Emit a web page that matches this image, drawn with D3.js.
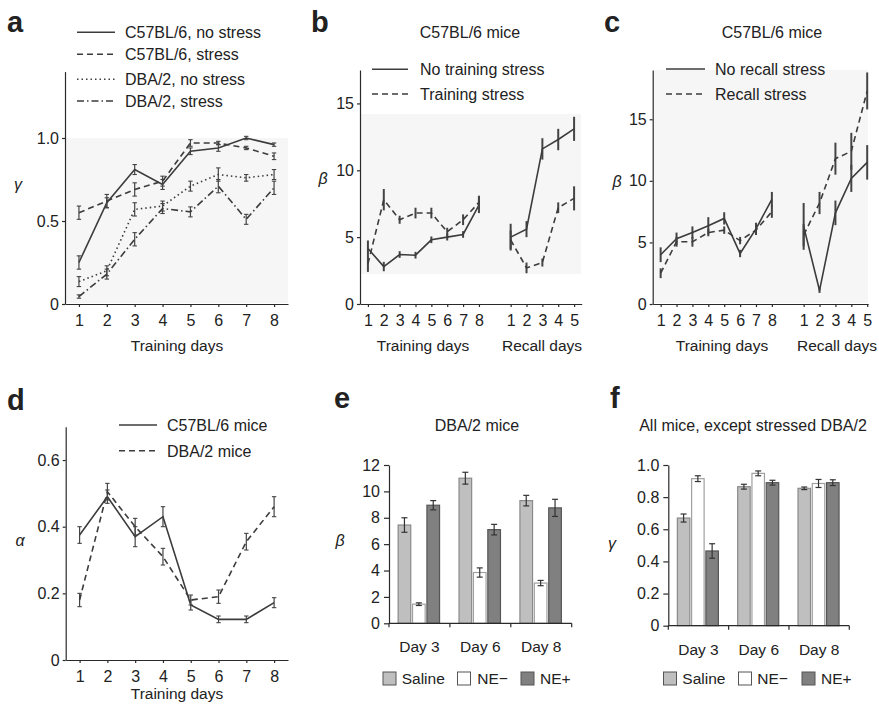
<!DOCTYPE html>
<html>
<head>
<meta charset="utf-8">
<script src="https://cdn.jsdelivr.net/npm/d3@7"></script>
<style>
  body { margin: 0; background: #fff; }
  text { font-family: "Liberation Sans", Arial, sans-serif; fill: #222; }
</style>
</head>
<body>
<svg id="fig" width="879" height="705"></svg>
<script>
/**
 * Six-panel figure: learning parameters of C57BL/6 and DBA/2 mice.
 */

// Data.
var trainingDays = [1, 2, 3, 4, 5, 6, 7, 8];
var recallDays = [1, 2, 3, 4, 5];

// a: gamma over training days.
var gammaC57NoStress = [0.25, 0.61, 0.81, 0.72, 0.92, 0.94, 1.0, 0.96];
var gammaC57NoStressErr = [0.04, 0.03, 0.03, 0.03, 0.02, 0.02, 0.01, 0.01];
var gammaC57Stress = [0.55, 0.62, 0.69, 0.74, 0.97, 0.97, 0.94, 0.89];
var gammaC57StressErr = [0.04, 0.04, 0.04, 0.03, 0.02, 0.01, 0.01, 0.02];
var gammaDBANoStress = [0.135, 0.2, 0.57, 0.59, 0.71, 0.78, 0.76, 0.78];
var gammaDBANoStressErr = [0.03, 0.03, 0.04, 0.03, 0.03, 0.04, 0.02, 0.03];
var gammaDBAStress = [0.045, 0.18, 0.39, 0.575, 0.555, 0.71, 0.51, 0.70];
var gammaDBAStressErr = [0.01, 0.03, 0.04, 0.03, 0.03, 0.04, 0.03, 0.04];

// b: beta, training stress vs none (C57BL/6).
var betaBTrainNoStress = [4.15, 2.8, 3.7, 3.65, 4.8, 5.0, 5.2, 7.4];
var betaBTrainNoStressErr = [0.6, 0.35, 0.25, 0.25, 0.25, 0.25, 0.25, 0.6];
var betaBTrainStress = [3.0, 7.8, 6.3, 6.8, 6.8, 5.4, 6.3, 7.6];
var betaBTrainStressErr = [0.6, 0.8, 0.3, 0.4, 0.4, 0.3, 0.4, 0.5];
var betaBRecallNoStress = [5.0, 5.6, 11.6, 12.3, 13.1];
var betaBRecallNoStressErr = [1.0, 0.6, 0.8, 0.8, 0.9];
var betaBRecallStress = [4.8, 2.7, 3.1, 7.2, 7.9];
var betaBRecallStressErr = [0.7, 0.4, 0.3, 0.4, 0.9];

// c: beta, recall stress vs none (C57BL/6).
var betaCTrainNoStress = [4.0, 5.3, 5.8, 6.35, 6.95, 4.1, 6.1, 8.5];
var betaCTrainNoStressErr = [0.6, 0.5, 0.5, 0.7, 0.5, 0.3, 0.5, 0.6];
var betaCTrainStress = [2.5, 5.05, 5.05, 5.8, 6.0, 5.15, 6.0, 7.5];
var betaCTrainStressErr = [0.4, 0.4, 0.4, 0.3, 0.3, 0.3, 0.4, 0.5];
var betaCRecallNoStress = [6.3, 1.1, 7.4, 10.2, 11.5];
var betaCRecallNoStressErr = [1.9, 0.2, 1.0, 1.1, 1.4];
var betaCRecallStress = [5.6, 8.2, 11.8, 12.4, 17.3];
var betaCRecallStressErr = [0.9, 0.9, 1.3, 1.5, 1.5];

// d: alpha over training days.
var alphaC57 = [0.375, 0.49, 0.37, 0.43, 0.165, 0.122, 0.122, 0.172];
var alphaC57Err = [0.025, 0.02, 0.03, 0.03, 0.015, 0.01, 0.01, 0.015];
var alphaDBA = [0.18, 0.505, 0.40, 0.31, 0.18, 0.19, 0.355, 0.46];
var alphaDBAErr = [0.02, 0.025, 0.025, 0.025, 0.015, 0.02, 0.025, 0.03];

// e, f: bar charts.
var barDays = ['Day 3', 'Day 6', 'Day 8'];
var treatments = ['Saline', 'NE\u2212', 'NE+'];
var betaSaline = [7.45, 11.0, 9.3];
var betaSalineErr = [0.55, 0.45, 0.4];
var betaNEminus = [1.45, 3.85, 3.05];
var betaNEminusErr = [0.1, 0.35, 0.2];
var betaNEplus = [8.95, 7.1, 8.75];
var betaNEplusErr = [0.35, 0.4, 0.65];
var gammaSaline = [0.67, 0.865, 0.855];
var gammaSalineErr = [0.025, 0.015, 0.008];
var gammaNEminus = [0.915, 0.948, 0.885];
var gammaNEminusErr = [0.018, 0.015, 0.025];
var gammaNEplus = [0.465, 0.89, 0.89];
var gammaNEplusErr = [0.045, 0.015, 0.018];

// Styles.
var INK = '#2a2a2a';
var LINE_COLOR = '#3c3c3c';
var ERR_COLOR = '#444';
var SHADE = '#f6f6f6';
var DASHES = {solid: null, dashed: '6,4', dotted: '1.5,3', dashdot: '7,3,1.5,3'};
var BAR_FILLS = ['#bfbfbf', '#ffffff', '#808080'];
var BAR_STROKES = ['#8a8a8a', '#a0a0a0', '#555'];
var TICK_SIZE = 16;
var TEXT_SIZE = 16;

var svg = d3.select('#fig');

var fmtDec = function(p) {
  return function(d) { return d === 0 ? '0' : d3.format('.' + p + 'f')(d); };
};

/**
 * styleAxis
 * Shared look for all axes.
 */
var styleAxis = function(g, size) {
  g.attr('font-family', '"Liberation Sans", Arial, sans-serif').attr('font-size', size);
  g.selectAll('path, line').attr('stroke', INK).attr('stroke-width', 1.2);
  g.selectAll('text').attr('fill', '#222');
};

var panelLetter = function(letter, x, y) {
  svg.append('text').text(letter)
    .attr('x', x).attr('y', y)
    .attr('font-size', 29).attr('font-weight', 'bold');
};

var greekLabel = function(ch, x, y) {
  svg.append('text').text(ch)
    .attr('x', x).attr('y', y)
    .attr('text-anchor', 'middle')
    .attr('font-family', '"Liberation Serif", "DejaVu Serif", serif')
    .attr('font-style', 'italic')
    .attr('font-size', 16);
};

var label = function(str, x, y, size, anchor) {
  svg.append('text').text(str)
    .attr('x', x).attr('y', y)
    .attr('font-size', size)
    .attr('text-anchor', anchor || 'middle');
};

/**
 * lineAxes
 * Draws x/y axes for a line panel.
 */
var lineAxes = function(x, y, xTicks, xFormat, yTicks, yFormat) {
  var x0 = x.range()[0], yBase = y.range()[0];
  var gx = svg.append('g')
    .attr('transform', 'translate(0,' + yBase + ')')
    .call(d3.axisBottom(x).tickValues(xTicks).tickFormat(xFormat)
      .tickSizeInner(3).tickSizeOuter(0).tickPadding(8));
  styleAxis(gx, TICK_SIZE);
  var gy = svg.append('g')
    .attr('transform', 'translate(' + x0 + ',0)')
    .call(d3.axisLeft(y).tickValues(yTicks).tickFormat(yFormat)
      .tickSizeInner(3).tickSizeOuter(0).tickPadding(3));
  styleAxis(gy, TICK_SIZE);
};

/**
 * series
 * Draws one line (with error bars) from x values, means and errors.
 */
var series = function(x, y, xs, vals, errs, dash, cap, errWidth) {
  var pts = xs.map(function(d, i) { return {x: d, v: vals[i], e: errs[i]}; });
  var eb = svg.append('g');
  eb.selectAll('line.bar').data(pts).enter().append('line')
    .attr('x1', function(d) { return x(d.x); })
    .attr('x2', function(d) { return x(d.x); })
    .attr('y1', function(d) { return y(d.v - d.e); })
    .attr('y2', function(d) { return y(d.v + d.e); })
    .attr('stroke', ERR_COLOR).attr('stroke-width', errWidth);
  if (cap > 0) {
    [-1, 1].forEach(function(s) {
      eb.selectAll('line.cap' + s).data(pts).enter().append('line')
        .attr('x1', function(d) { return x(d.x) - cap; })
        .attr('x2', function(d) { return x(d.x) + cap; })
        .attr('y1', function(d) { return y(d.v + s * d.e); })
        .attr('y2', function(d) { return y(d.v + s * d.e); })
        .attr('stroke', ERR_COLOR).attr('stroke-width', 1.1);
    });
  }
  svg.append('path').datum(pts)
    .attr('d', d3.line().x(function(d) { return x(d.x); }).y(function(d) { return y(d.v); }))
    .attr('fill', 'none')
    .attr('stroke', LINE_COLOR)
    .attr('stroke-width', 1.6)
    .attr('stroke-dasharray', dash);
};

var lineLegend = function(items, x1, x2, tx, ys) {
  items.forEach(function(it, i) {
    svg.append('line')
      .attr('x1', x1).attr('x2', x2).attr('y1', ys[i]).attr('y2', ys[i])
      .attr('stroke', LINE_COLOR).attr('stroke-width', 1.5)
      .attr('stroke-dasharray', it.dash);
    svg.append('text').text(it.name)
      .attr('x', tx).attr('y', ys[i] + 5.8).attr('font-size', TEXT_SIZE);
  });
};

var shade = function(x0, y0, x1, y1) {
  svg.append('rect').attr('x', x0).attr('y', y0)
    .attr('width', x1 - x0).attr('height', y1 - y0).attr('fill', SHADE);
};

// ---------- Panel a ----------
var xa = d3.scaleLinear().domain([0.5, 8.5]).range([65, 288]);
var ya = d3.scaleLinear().domain([0, 1.4]).range([304, 71.6]);
shade(66, ya(1.0), 288, 303);
lineAxes(xa, ya, trainingDays, d3.format('d'), [0, 0.5, 1.0], fmtDec(1));
series(xa, ya, trainingDays, gammaC57NoStress, gammaC57NoStressErr, DASHES.solid, 2.2, 1.2);
series(xa, ya, trainingDays, gammaC57Stress, gammaC57StressErr, DASHES.dashed, 2.2, 1.2);
series(xa, ya, trainingDays, gammaDBANoStress, gammaDBANoStressErr, DASHES.dotted, 2.2, 1.2);
series(xa, ya, trainingDays, gammaDBAStress, gammaDBAStressErr, DASHES.dashdot, 2.2, 1.2);
lineLegend([
  {name: 'C57BL/6, no stress', dash: DASHES.solid},
  {name: 'C57BL/6, stress', dash: DASHES.dashed},
  {name: 'DBA/2, no stress', dash: DASHES.dotted},
  {name: 'DBA/2, stress', dash: DASHES.dashdot}
], 77, 115, 125, [32.3, 54.3, 79.3, 101]);
panelLetter('a', 7, 32);
greekLabel('\u03b3', 18, 190);
label('Training days', 177, 351, 15.5);

// ---------- Panel b ----------
var recallPos = recallDays.map(function(d) { return d + 9; });
var splitTicks = trainingDays.concat(recallPos);
var splitFormat = function(d) { return d <= 8 ? d : d - 9; };

var xb = d3.scaleLinear().domain([0.5, 14.48]).range([360, 581.7]);
var yb = d3.scaleLinear().domain([0, 17.5]).range([304, 70]);
shade(361, 114, 581, 274);
lineAxes(xb, yb, splitTicks, splitFormat, [0, 5, 10, 15], d3.format('d'));
series(xb, yb, trainingDays, betaBTrainNoStress, betaBTrainNoStressErr, DASHES.solid, 0, 2);
series(xb, yb, trainingDays, betaBTrainStress, betaBTrainStressErr, DASHES.dashed, 0, 2);
series(xb, yb, recallPos, betaBRecallNoStress, betaBRecallNoStressErr, DASHES.solid, 0, 2);
series(xb, yb, recallPos, betaBRecallStress, betaBRecallStressErr, DASHES.dashed, 0, 2);
lineLegend([
  {name: 'No training stress', dash: DASHES.solid},
  {name: 'Training stress', dash: DASHES.dashed}
], 372, 408, 420, [69.3, 94]);
panelLetter('b', 311, 32);
label('C57BL/6 mice', 470, 37.5, TEXT_SIZE);
greekLabel('\u03b2', 323, 184);
label('Training days', 423, 351, 15.5);
label('Recall days', 542, 351, 15.5);

// ---------- Panel c ----------
var xc = d3.scaleLinear().domain([0.5, 14.05]).range([652.7, 868]);
var yc = d3.scaleLinear().domain([0, 19]).range([304, 70]);
shade(654, 70, 868, 303);
lineAxes(xc, yc, splitTicks, splitFormat, [0, 5, 10, 15], d3.format('d'));
series(xc, yc, trainingDays, betaCTrainNoStress, betaCTrainNoStressErr, DASHES.solid, 0, 2);
series(xc, yc, trainingDays, betaCTrainStress, betaCTrainStressErr, DASHES.dashed, 0, 2);
series(xc, yc, recallPos, betaCRecallNoStress, betaCRecallNoStressErr, DASHES.solid, 0, 2);
series(xc, yc, recallPos, betaCRecallStress, betaCRecallStressErr, DASHES.dashed, 0, 2);
lineLegend([
  {name: 'No recall stress', dash: DASHES.solid},
  {name: 'Recall stress', dash: DASHES.dashed}
], 666, 705, 715, [69, 94]);
panelLetter('c', 604, 32);
label('C57BL/6 mice', 772, 37.5, TEXT_SIZE);
greekLabel('\u03b2', 617, 187);
label('Training days', 722, 351, 15.5);
label('Recall days', 837, 351, 15.5);

// ---------- Panel d ----------
var xd = d3.scaleLinear().domain([0.5, 8.5]).range([65.7, 288]);
var yd = d3.scaleLinear().domain([0, 0.7]).range([660, 426.7]);
lineAxes(xd, yd, trainingDays, d3.format('d'), [0, 0.2, 0.4, 0.6], fmtDec(1));
series(xd, yd, trainingDays, alphaC57, alphaC57Err, DASHES.solid, 2.2, 1.2);
series(xd, yd, trainingDays, alphaDBA, alphaDBAErr, DASHES.dashed, 2.2, 1.2);
lineLegend([
  {name: 'C57BL/6 mice', dash: DASHES.solid},
  {name: 'DBA/2 mice', dash: DASHES.dashed}
], 119, 157, 167, [425, 450.7]);
panelLetter('d', 7, 410);
greekLabel('\u03b1', 20, 546);
label('Training days', 177, 699, 15.5);

// ---------- Panels e, f ----------
/**
 * barPanel
 * Grouped bars (Saline / NE- / NE+) per day, with error bars and legend.
 */
var barPanel = function(x0, x1, y, yTicks, yFormat, groups) {
  var xg = d3.scaleBand().domain(barDays).range([x0, x1]);
  var bw = xg.bandwidth();
  var xi = d3.scaleBand().domain(treatments).range([bw * 0.14, bw * 0.84]).paddingInner(0.04);
  var yBase = y.range()[0];

  var gy = svg.append('g')
    .attr('transform', 'translate(' + x0 + ',0)')
    .call(d3.axisLeft(y).tickValues(yTicks).tickFormat(yFormat)
      .tickSizeInner(5).tickSizeOuter(0).tickPadding(4));
  styleAxis(gy, TICK_SIZE);

  groups.forEach(function(grp, gi) {
    var pts = barDays.map(function(day, i) { return {day: day, v: grp.vals[i], e: grp.errs[i]}; });
    var bx = function(d) { return xg(d.day) + xi(treatments[gi]); };
    svg.append('g').selectAll('rect').data(pts).enter().append('rect')
      .attr('x', function(d) { return bx(d) + 0.6; })
      .attr('y', function(d) { return y(d.v); })
      .attr('width', xi.bandwidth() - 1.2)
      .attr('height', function(d) { return yBase - y(d.v); })
      .attr('fill', BAR_FILLS[gi])
      .attr('stroke', BAR_STROKES[gi]).attr('stroke-width', 1.2);
    var cx = function(d) { return bx(d) + xi.bandwidth() / 2; };
    var eg = svg.append('g');
    eg.selectAll('line.v').data(pts).enter().append('line')
      .attr('x1', cx).attr('x2', cx)
      .attr('y1', function(d) { return y(d.v - d.e); })
      .attr('y2', function(d) { return y(d.v + d.e); })
      .attr('stroke', '#333').attr('stroke-width', 1.2);
    [-1, 1].forEach(function(s) {
      eg.selectAll('line.c' + s).data(pts).enter().append('line')
        .attr('x1', function(d) { return cx(d) - 3; })
        .attr('x2', function(d) { return cx(d) + 3; })
        .attr('y1', function(d) { return y(d.v + s * d.e); })
        .attr('y2', function(d) { return y(d.v + s * d.e); })
        .attr('stroke', '#333').attr('stroke-width', 1.2);
    });
  });

  // x axis: line, boundary ticks, day labels
  svg.append('line').attr('x1', x0).attr('x2', x1).attr('y1', yBase).attr('y2', yBase)
    .attr('stroke', INK).attr('stroke-width', 1.2);
  var edges = barDays.map(function(d) { return xg(d); }).concat([x1]);
  svg.append('g').selectAll('line').data(edges).enter().append('line')
    .attr('x1', function(d) { return d; }).attr('x2', function(d) { return d; })
    .attr('y1', yBase).attr('y2', yBase + 4)
    .attr('stroke', INK).attr('stroke-width', 1.2);
  svg.append('g').selectAll('text').data(barDays).enter().append('text')
    .text(function(d) { return d; })
    .attr('x', function(d) { return xg(d) + bw / 2; })
    .attr('y', yBase + 29)
    .attr('font-size', 15.5)
    .attr('text-anchor', 'middle');
};

var barLegend = function(boxXs, textXs, yc) {
  treatments.forEach(function(t, i) {
    svg.append('rect').attr('x', boxXs[i]).attr('y', yc - 6.5)
      .attr('width', 13).attr('height', 13)
      .attr('fill', BAR_FILLS[i]).attr('stroke', '#555').attr('stroke-width', 1);
    svg.append('text').text(t).attr('x', textXs[i]).attr('y', yc + 5.8)
      .attr('font-size', 15.5);
  });
};

var ye = d3.scaleLinear().domain([0, 12]).range([623.3, 465]);
barPanel(389, 571.7, ye, [0, 2, 4, 6, 8, 10, 12], d3.format('d'), [
  {vals: betaSaline, errs: betaSalineErr},
  {vals: betaNEminus, errs: betaNEminusErr},
  {vals: betaNEplus, errs: betaNEplusErr}
]);
barLegend([383, 457.5, 521], [401.7, 477.3, 540], 678.5);
panelLetter('e', 334, 408);
label('DBA/2 mice', 477, 430.5, TEXT_SIZE);
greekLabel('\u03b2', 340, 546);

var yf = d3.scaleLinear().domain([0, 1]).range([625.7, 465]);
barPanel(668.3, 849.3, yf, [0, 0.2, 0.4, 0.6, 0.8, 1.0], fmtDec(1), [
  {vals: gammaSaline, errs: gammaSalineErr},
  {vals: gammaNEminus, errs: gammaNEminusErr},
  {vals: gammaNEplus, errs: gammaNEplusErr}
]);
barLegend([663.5, 738.5, 802], [682.3, 757.3, 821], 678.5);
panelLetter('f', 610, 408);
label('All mice, except stressed DBA/2', 753, 430.5, TEXT_SIZE);
greekLabel('\u03b3', 612, 549);
</script>
</body>
</html>
